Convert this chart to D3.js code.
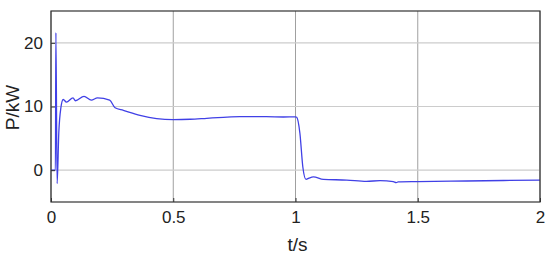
<!DOCTYPE html>
<html>
<head>
<meta charset="utf-8">
<script src="https://cdn.jsdelivr.net/npm/d3@7"></script>
<style>
  body { margin: 0; background: #fff; }
  text { font-family: "Liberation Sans", Arial, sans-serif; fill: #222; }
</style>
</head>
<body>
<div id="chart-area"></div>
<script>
const WIDTH = 550;
const HEIGHT = 256;
const LEFT = 51, RIGHT = 540, TOP = 11, BOTTOM = 202;

const xTicks = [0, 0.5, 1, 1.5, 2];
const yTicks = [0, 10, 20];

// power trace (t in s, P in kW)
const tValues = [0, 0.018, 0.02, 0.025, 0.032, 0.04, 0.05, 0.063, 0.09, 0.1, 0.135, 0.165, 0.19,
  0.24, 0.262, 0.296, 0.364, 0.432, 0.5, 0.569, 0.637, 0.705, 0.773, 0.88, 0.95, 1.0, 1.005,
  1.018, 1.03, 1.043, 1.055, 1.073, 1.114, 1.21, 1.29, 1.346, 1.4, 1.412, 1.42, 1.5, 1.7, 2.0];
const pValues = [0, 0, 21.6, -2.1, 6.0, 9.7, 11.1, 10.7, 11.35, 10.9, 11.6, 11.0, 11.35,
  11.0, 9.8, 9.4, 8.6, 8.1, 7.95, 8.0, 8.15, 8.3, 8.4, 8.4, 8.35, 8.37, 8.3,
  5.8, 0.5, -1.45, -1.25, -1.05, -1.45, -1.55, -1.75, -1.65, -1.8, -1.95, -1.85, -1.8, -1.7, -1.55];

main();

function main() {
  const svg = d3.select('#chart-area').append('svg')
    .attr('width', WIDTH)
    .attr('height', HEIGHT);

  const x = d3.scaleLinear().domain([0, 2]).range([LEFT, RIGHT]);
  const y = d3.scaleLinear().domain([-5, 25]).range([BOTTOM, TOP]);

  // grid
  svg.append('g')
    .selectAll('line')
    .data(xTicks)
    .enter()
    .append('line')
    .attr('x1', d => x(d)).attr('x2', d => x(d))
    .attr('y1', TOP).attr('y2', BOTTOM)
    .attr('stroke', '#a0a0a0')
    .attr('stroke-width', 1);
  svg.append('g')
    .selectAll('line')
    .data(yTicks)
    .enter()
    .append('line')
    .attr('x1', LEFT).attr('x2', RIGHT)
    .attr('y1', d => y(d)).attr('y2', d => y(d))
    .attr('stroke', '#cccccc')
    .attr('stroke-width', 1.2);

  // data line
  const data = tValues.map((t, i) => ({t, p: pValues[i]}));
  const line = d3.line().x(d => x(d.t)).y(d => y(d.p)).curve(d3.curveMonotoneX);
  svg.append('path')
    .datum(data)
    .attr('d', line)
    .attr('fill', 'none')
    .attr('stroke', '#4040e6')
    .attr('stroke-width', 1.3);

  // axes
  const axisBottomCall = d3.axisBottom(x).tickValues(xTicks).tickSize(-4).tickPadding(9)
    .tickFormat(d3.format('~g'));
  const gx = svg.append('g')
    .attr('transform', `translate(0, ${ BOTTOM })`)
    .call(axisBottomCall);
  const axisLeftCall = d3.axisLeft(y).tickValues(yTicks).tickSize(-4).tickPadding(8);
  const gy = svg.append('g')
    .attr('transform', `translate(${ LEFT }, 0)`)
    .call(axisLeftCall);
  [gx, gy].forEach(g => {
    g.select('.domain').remove();
    g.selectAll('.tick line').attr('stroke', '#333');
    g.selectAll('text').style('font-size', '17px').attr('fill', '#222');
  });

  svg.append('rect')
    .attr('x', LEFT).attr('y', TOP)
    .attr('width', RIGHT - LEFT).attr('height', BOTTOM - TOP)
    .attr('fill', 'none')
    .attr('stroke', '#333')
    .attr('stroke-width', 1.2);

  svg.append('text')
    .attr('x', (LEFT + RIGHT) / 2 + 2)
    .attr('y', 251)
    .attr('text-anchor', 'middle')
    .style('font-size', '19px')
    .text('t/s');

  svg.append('text')
    .attr('transform', `translate(19, ${ (TOP + BOTTOM) / 2 + 1 }) rotate(-90)`)
    .attr('text-anchor', 'middle')
    .style('font-size', '19px')
    .text('P/kW');
}
</script>
</body>
</html>
